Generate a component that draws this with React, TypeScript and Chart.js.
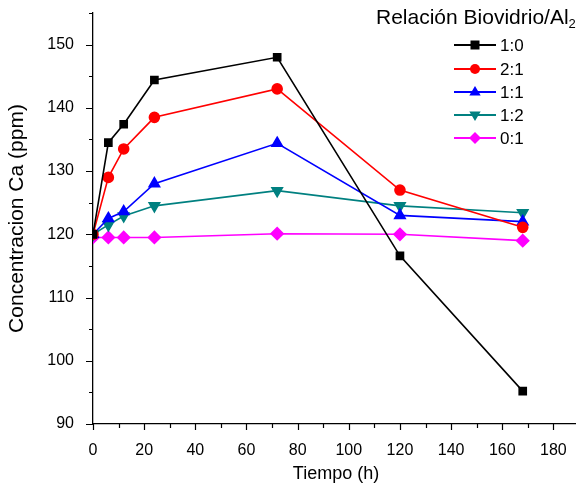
import React, { useEffect, useRef } from "react";
import { Chart, registerables } from "chart.js";

Chart.register(...registerables);

const tiempo = [0, 6, 12, 24, 72, 120, 168];
const serie10 = [120, 134.5, 137.4, 144.4, 148, 116.6, 95.2];
const serie21 = [120, 129, 133.5, 138.5, 143, 127, 121.1];
const serie11 = [120, 122.5, 123.6, 128, 134.4, 123, 122];
const serie12 = [120, 121.5, 122.9, 124.5, 126.9, 124.5, 123.4];
const serie01 = [119.5, 119.5, 119.5, 119.5, 120.1, 120, 119];
const etiquetas = ["1:0", "2:1", "1:1", "1:2", "0:1"];
const xTicks = [0, 20, 40, 60, 80, 100, 120, 140, 160, 180];
const yTicks = [90, 100, 110, 120, 130, 140, 150];
const tituloLeyenda = "Relación Biovidrio/Al";

const FONT = "'Liberation Sans', Arial, sans-serif";

type Serie = { label: string; data: number[]; color: string; style: string; rot: number; radius: number };

const series: Serie[] = [
  { label: etiquetas[0], data: serie10, color: "#000000", style: "rect", rot: 0, radius: 5 },
  { label: etiquetas[1], data: serie21, color: "#ff0000", style: "circle", rot: 0, radius: 5 },
  { label: etiquetas[2], data: serie11, color: "#0000ff", style: "triangle", rot: 0, radius: 6 },
  { label: etiquetas[3], data: serie12, color: "#008080", style: "triangle", rot: 180, radius: 6 },
  { label: etiquetas[4], data: serie01, color: "#ff00ff", style: "rectRot", rot: 0, radius: 6 },
];

function drawMarker(ctx: CanvasRenderingContext2D, s: Serie, cx: number, cy: number) {
  const r = s.radius;
  ctx.beginPath();
  if (s.style === "rect") {
    const h = r * 0.9;
    ctx.rect(cx - h, cy - h, 2 * h, 2 * h);
  } else if (s.style === "circle") {
    ctx.arc(cx, cy, r, 0, Math.PI * 2);
  } else if (s.style === "triangle") {
    const sgn = s.rot === 180 ? -1 : 1;
    ctx.moveTo(cx, cy - sgn * r);
    ctx.lineTo(cx + r * 0.95, cy + sgn * r * 0.6);
    ctx.lineTo(cx - r * 0.95, cy + sgn * r * 0.6);
    ctx.closePath();
  } else {
    ctx.moveTo(cx, cy - r);
    ctx.lineTo(cx + r, cy);
    ctx.lineTo(cx, cy + r);
    ctx.lineTo(cx - r, cy);
    ctx.closePath();
  }
  ctx.fill();
}

const tickPlugin = {
  id: "manualTicks",
  afterDraw(chart: any) {
    const ctx = chart.ctx;
    const x = chart.scales.x;
    const y = chart.scales.y;
    ctx.save();
    ctx.strokeStyle = "#000";
    ctx.lineWidth = 1.2;
    ctx.beginPath();
    for (let v = 90; v <= 155; v += 5) {
      const py = Math.round(y.getPixelForValue(v)) + 0.5;
      const len = v % 10 === 0 ? 7 : 4;
      ctx.moveTo(chart.chartArea.left, py);
      ctx.lineTo(chart.chartArea.left - len, py);
    }
    for (let v = 0; v <= 190; v += 10) {
      const px = Math.round(x.getPixelForValue(v)) + 0.5;
      const len = v % 20 === 0 ? 6 : 4;
      ctx.moveTo(px, chart.chartArea.bottom);
      ctx.lineTo(px, chart.chartArea.bottom + len);
    }
    ctx.stroke();

    // legend
    ctx.fillStyle = "#000";
    ctx.font = `21px ${FONT}`;
    ctx.textBaseline = "middle";
    ctx.textAlign = "left";
    const tx = 376;
    const ty = 18;
    ctx.fillText(tituloLeyenda, tx, ty);
    let w = ctx.measureText(tituloLeyenda).width;
    ctx.font = `13px ${FONT}`;
    ctx.fillText("2", tx + w, ty + 6);
    w += ctx.measureText("2").width;
    ctx.font = `21px ${FONT}`;
    ctx.fillText("O", tx + w, ty);
    w += ctx.measureText("O").width;
    ctx.font = `13px ${FONT}`;
    ctx.fillText("3", tx + w, ty + 6);

    const rows = [45, 69, 92, 115, 138];
    series.forEach((s, i) => {
      const ry = rows[i];
      ctx.strokeStyle = s.color;
      ctx.lineWidth = 1.8;
      ctx.beginPath();
      ctx.moveTo(454, ry);
      ctx.lineTo(496, ry);
      ctx.stroke();
      ctx.fillStyle = s.color;
      drawMarker(ctx, s, 475, ry);
      ctx.fillStyle = "#000";
      ctx.font = `17px ${FONT}`;
      ctx.fillText(s.label, 500, ry + 1);
    });
    ctx.restore();
  },
};

export default function App() {
  const ref = useRef<HTMLCanvasElement>(null);
  useEffect(() => {
    document.body.style.margin = "0";
    const chart = new Chart(ref.current as HTMLCanvasElement, {
      type: "line",
      data: {
        datasets: series.map((s) => ({
          label: s.label,
          data: tiempo.map((t, i) => ({ x: t, y: s.data[i] })),
          borderColor: s.color,
          backgroundColor: s.color,
          pointBackgroundColor: s.color,
          pointBorderColor: s.color,
          pointStyle: s.style as any,
          rotation: s.rot,
          pointRadius: s.radius,
          borderWidth: 1.6,
          tension: 0,
        })),
      },
      plugins: [tickPlugin],
      options: {
        animation: false,
        responsive: false,
        maintainAspectRatio: false,
        layout: { padding: { top: 13, right: 11, left: 0, bottom: 0 } },
        plugins: { legend: { display: false }, tooltip: { enabled: false } },
        scales: {
          x: {
            type: "linear",
            min: 0,
            max: 190,
            grid: { display: false },
            border: { display: true, color: "#000", width: 1.3 },
            afterBuildTicks: (scale: any) => {
              scale.ticks = xTicks.map((v) => ({ value: v }));
            },
            ticks: {
              autoSkip: false,
              maxRotation: 0,
              padding: 9,
              color: "#000",
              font: { family: FONT, size: 16 },
              callback: (v: any) => String(v),
            },
            title: {
              display: true,
              text: "Tiempo (h)",
              color: "#000",
              font: { family: FONT, size: 18 },
              padding: { top: 6, bottom: 0 },
            },
            afterFit: (scale: any) => {
              scale.height = 485 - 424;
              scale.paddingLeft = 0;
              scale.paddingRight = 0;
            },
          },
          y: {
            type: "linear",
            min: 90,
            max: 155,
            grid: { display: false },
            border: { display: true, color: "#000", width: 1.3 },
            afterBuildTicks: (scale: any) => {
              scale.ticks = yTicks.map((v) => ({ value: v }));
            },
            ticks: {
              autoSkip: false,
              padding: 11,
              color: "#000",
              font: { family: FONT, size: 16 },
              callback: (v: any) => String(v),
            },
            title: {
              display: true,
              text: "Concentracion Ca (ppm)",
              color: "#000",
              font: { family: FONT, size: 21 },
              padding: { top: 5, bottom: 0 },
            },
            afterFit: (scale: any) => {
              scale.width = 93;
              scale.paddingTop = 0;
              scale.paddingBottom = 0;
            },
          },
        },
      },
    });
    return () => chart.destroy();
  }, []);
  return (
    <div style={{ width: 576, height: 485, overflow: "hidden", position: "relative" }}>
      <canvas ref={ref} width={590} height={485} style={{ display: "block" }} />
    </div>
  );
}
